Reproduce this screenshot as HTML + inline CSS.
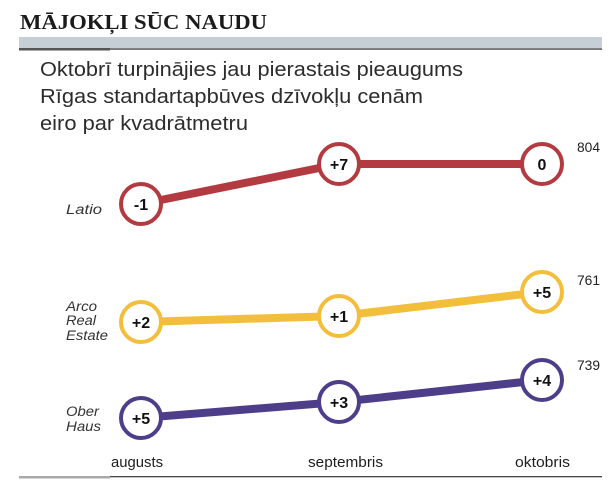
<!DOCTYPE html>
<html>
<head>
<meta charset="utf-8">
<style>
  html,body{margin:0;padding:0;background:#fff;}
  body{width:610px;height:489px;overflow:hidden;}
  svg{display:block;}
</style>
</head>
<body>
<svg width="610" height="489" viewBox="0 0 610 489" xmlns="http://www.w3.org/2000/svg">
  <rect x="0" y="0" width="610" height="489" fill="#fff"/>
  <!-- Title -->
  <text x="20" y="29" font-family="Liberation Serif, serif" font-weight="bold" font-size="21" fill="#1b1b1b" textLength="247" lengthAdjust="spacingAndGlyphs">MĀJOKĻI SŪC NAUDU</text>
  <!-- gray bar -->
  <rect x="19" y="37" width="583" height="12" fill="#c5cfd5"/>
  <rect x="19" y="48.5" width="583" height="1.2" fill="#3a3a3a"/>
  <rect x="19" y="48" width="91" height="2.5" fill="#555"/>
  <!-- Subtitle -->
  <g font-family="Liberation Sans, sans-serif" font-size="20" fill="#2c2c2c">
    <text x="40" y="76" textLength="423" lengthAdjust="spacingAndGlyphs">Oktobrī turpinājies jau pierastais pieaugums</text>
    <text x="40" y="103" textLength="383" lengthAdjust="spacingAndGlyphs">Rīgas standartapbūves dzīvokļu cenām</text>
    <text x="40" y="130" textLength="208" lengthAdjust="spacingAndGlyphs">eiro par kvadrātmetru</text>
  </g>

  <!-- Series lines -->
  <polyline points="141,204 339,164 542,164" fill="none" stroke="#b33a40" stroke-width="8" stroke-linejoin="round"/>
  <polyline points="141,322 339,316 542,292" fill="none" stroke="#f2be3c" stroke-width="8" stroke-linejoin="round"/>
  <polyline points="141,418 339,402 542,380" fill="none" stroke="#4e3e8a" stroke-width="8" stroke-linejoin="round"/>

  <!-- Circles -->
  <g fill="#fff" stroke-width="4">
    <circle cx="141" cy="204" r="20" stroke="#b33a40"/>
    <circle cx="339" cy="164" r="20" stroke="#b33a40"/>
    <circle cx="542" cy="164" r="20" stroke="#b33a40"/>
    <circle cx="141" cy="322" r="20" stroke="#f2be3c"/>
    <circle cx="339" cy="316" r="20" stroke="#f2be3c"/>
    <circle cx="542" cy="292" r="20" stroke="#f2be3c"/>
    <circle cx="141" cy="418" r="20" stroke="#4e3e8a"/>
    <circle cx="339" cy="402" r="20" stroke="#4e3e8a"/>
    <circle cx="542" cy="380" r="20" stroke="#4e3e8a"/>
  </g>
  <g font-family="Liberation Sans, sans-serif" font-weight="bold" font-size="16" fill="#111" text-anchor="middle">
    <text x="141" y="210">-1</text>
    <text x="339" y="170">+7</text>
    <text x="542" y="170">0</text>
    <text x="141" y="328">+2</text>
    <text x="339" y="322">+1</text>
    <text x="542" y="298">+5</text>
    <text x="141" y="424">+5</text>
    <text x="339" y="408">+3</text>
    <text x="542" y="386">+4</text>
  </g>

  <!-- End values -->
  <g font-family="Liberation Sans, sans-serif" font-size="14" fill="#222">
    <text x="577" y="152" textLength="23" lengthAdjust="spacingAndGlyphs">804</text>
    <text x="577" y="285" textLength="23" lengthAdjust="spacingAndGlyphs">761</text>
    <text x="577" y="370" textLength="23" lengthAdjust="spacingAndGlyphs">739</text>
  </g>

  <!-- Series labels -->
  <g font-family="Liberation Sans, sans-serif" font-style="italic" font-size="13.5" fill="#333">
    <text x="66" y="214" textLength="36" lengthAdjust="spacingAndGlyphs">Latio</text>
    <text x="66" y="311" textLength="31" lengthAdjust="spacingAndGlyphs">Arco</text>
    <text x="66" y="325" textLength="30" lengthAdjust="spacingAndGlyphs">Real</text>
    <text x="66" y="340" textLength="42" lengthAdjust="spacingAndGlyphs">Estate</text>
    <text x="66" y="416" textLength="33" lengthAdjust="spacingAndGlyphs">Ober</text>
    <text x="66" y="431" textLength="35" lengthAdjust="spacingAndGlyphs">Haus</text>
  </g>

  <!-- X labels -->
  <g font-family="Liberation Sans, sans-serif" font-size="15" fill="#1e1e1e">
    <text x="111" y="467" textLength="52" lengthAdjust="spacingAndGlyphs">augusts</text>
    <text x="308" y="467" textLength="75" lengthAdjust="spacingAndGlyphs">septembris</text>
    <text x="515" y="467" textLength="55" lengthAdjust="spacingAndGlyphs">oktobris</text>
  </g>

  <!-- bottom axis line -->
  <rect x="19" y="476" width="583" height="1.3" fill="#444"/>
  <rect x="19" y="476" width="91" height="2.5" fill="#a9a9a9"/>
</svg>
</body>
</html>
